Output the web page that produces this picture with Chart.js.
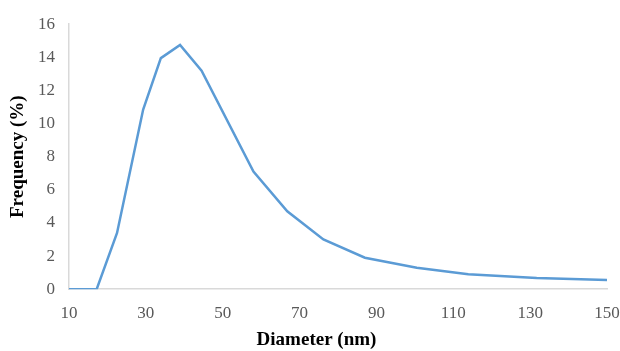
<!DOCTYPE html>
<html>
<head>
<meta charset="utf-8">
<script src="https://cdn.jsdelivr.net/npm/chart.js@4"></script>
<style>
  html, body { margin: 0; padding: 0; background: #fff; }
  #wrap { width: 620px; height: 351px; }
</style>
</head>
<body>
<div id="wrap"><canvas id="sizeChart" width="620" height="351"></canvas></div>
<script>
// diameter (nm) and frequency (%)
const diameters = [10, 17.2, 22.5, 29.3, 33.9, 38.9, 44.5, 58, 66.8, 76.2, 87, 100.5, 113.9, 131.7, 150];
const frequency = [0, 0, 3.4, 10.85, 13.95, 14.75, 13.2, 7.1, 4.7, 3.0, 1.9, 1.3, 0.9, 0.68, 0.55];
const xTicks = [10, 30, 50, 70, 90, 110, 130, 150];
const yTicks = [0, 2, 4, 6, 8, 10, 12, 14, 16];

const points = diameters.map((d, i) => ({ x: d, y: frequency[i] }));
const tickFont = { family: "'Liberation Serif', 'Times New Roman', serif", size: 17 };
const titleFont = { family: "'Liberation Serif', 'Times New Roman', serif", size: 19, weight: 'bold' };

const ctx = document.getElementById('sizeChart').getContext('2d');
new Chart(ctx, {
    type: 'line',
    data: {
        datasets: [{
            data: points,
            borderColor: '#5b9bd5',
            borderWidth: 2.5,
            pointRadius: 0,
            tension: 0,
            fill: false
        }]
    },
    options: {
        responsive: false,
        animation: false,
        layout: { padding: { left: 26, right: 13, top: 15, bottom: 0 } },
        plugins: {
            legend: { display: false },
            tooltip: { enabled: false },
            // x-axis title as a full-width bottom title (it sits left of the plot centre in the original)
            title: {
                display: true,
                position: 'bottom',
                text: 'Diameter (nm)',
                color: '#000',
                font: titleFont,
                padding: { top: 4, bottom: 0 }
            }
        },
        scales: {
            x: {
                type: 'linear',
                min: 10,
                max: 150,
                afterBuildTicks: (scale) => { scale.ticks = xTicks.map(v => ({ value: v })); },
                grid: { display: false, drawTicks: false },
                border: { display: true, color: '#d9d9d9', width: 1.5 },
                ticks: { color: '#595959', font: tickFont, padding: 14, maxRotation: 0 },
                afterFit: (scale) => {
                    scale.height = 35;
                    scale.paddingRight = 0;
                    scale.paddingLeft = 0;
                }
            },
            y: {
                min: 0,
                max: 16,
                afterBuildTicks: (scale) => { scale.ticks = yTicks.map(v => ({ value: v })); },
                grid: { display: false, drawTicks: false },
                border: { display: true, color: '#d9d9d9', width: 1.5 },
                ticks: { color: '#595959', font: tickFont, padding: 14 },
                title: { display: true, text: 'Frequency (%)', color: '#000', font: titleFont, padding: { top: -19, bottom: 6 } },
                afterFit: (scale) => { scale.width = 43; }
            }
        }
    }
});
</script>
</body>
</html>
